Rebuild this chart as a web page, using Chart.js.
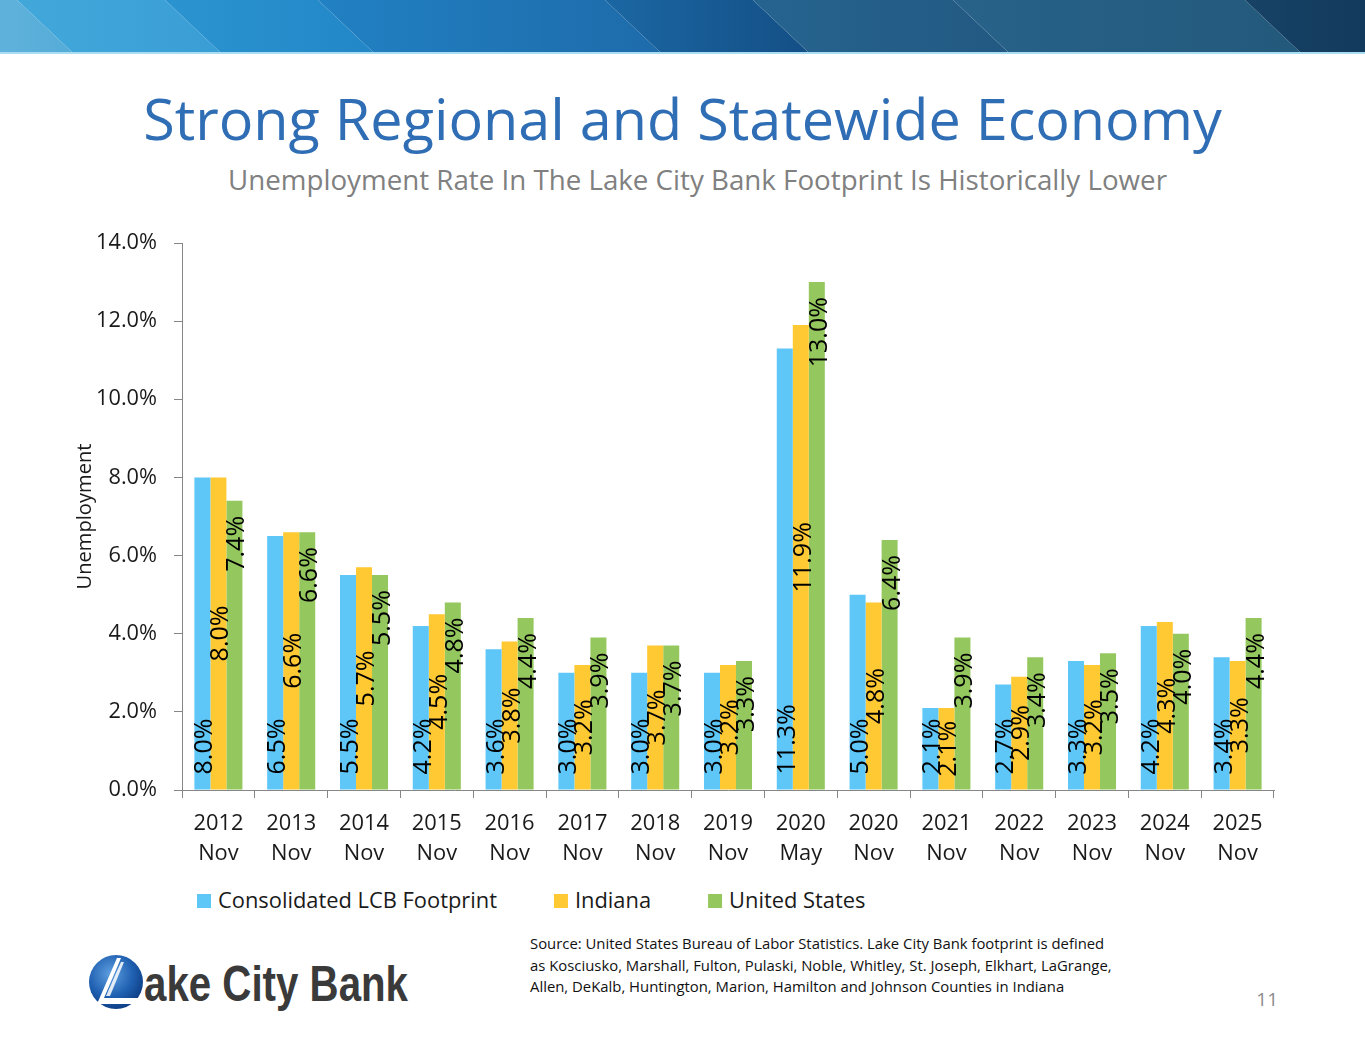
<!DOCTYPE html>
<html>
<head>
<meta charset="utf-8">
<script src="https://cdn.jsdelivr.net/npm/chart.js@4.4.1/dist/chart.umd.min.js"></script>
<style>
  body { margin: 0; background: #fff; }
  #page { position: relative; width: 1365px; height: 1047px; overflow: hidden; background: #fff; }
  #deco { position: absolute; left: 0; top: 0; }
  #box { position: absolute; left: 60px; top: 220px; width: 1230px; height: 650px; }
</style>
</head>
<body>
<div id="page">
  <svg id="deco" width="1365" height="1047" xmlns="http://www.w3.org/2000/svg">
    <defs>
      <linearGradient id="b0" x1="0" x2="1"><stop offset="0" stop-color="#5FB2DB"/><stop offset="1" stop-color="#55ACD8"/></linearGradient>
      <linearGradient id="b1" x1="0" x2="1"><stop offset="0" stop-color="#42A8DA"/><stop offset="1" stop-color="#3A9ED6"/></linearGradient>
      <linearGradient id="b2" x1="0" x2="1"><stop offset="0" stop-color="#2B94D0"/><stop offset="1" stop-color="#2387C7"/></linearGradient>
      <linearGradient id="b3" x1="0" x2="1"><stop offset="0" stop-color="#2181C3"/><stop offset="1" stop-color="#1E6BAA"/></linearGradient>
      <linearGradient id="b4" x1="0" x2="1"><stop offset="0" stop-color="#1B67A3"/><stop offset="1" stop-color="#144F86"/></linearGradient>
      <linearGradient id="b5" x1="0" x2="1"><stop offset="0" stop-color="#26648F"/><stop offset="1" stop-color="#225982"/></linearGradient>
      <linearGradient id="b6" x1="0" x2="1"><stop offset="0" stop-color="#28628A"/><stop offset="1" stop-color="#23597B"/></linearGradient>
      <linearGradient id="b7" x1="0" x2="1"><stop offset="0" stop-color="#174266"/><stop offset="1" stop-color="#123A5C"/></linearGradient>
      <radialGradient id="lg" cx="0.4" cy="0.35" r="0.7"><stop offset="0" stop-color="#5E9FE0"/><stop offset="0.6" stop-color="#1F5FB0"/><stop offset="1" stop-color="#0C3A80"/></radialGradient>
    </defs>
    <g id="banner">
      <polygon points="0,0 17,0 72,52 0,52" fill="url(#b0)"/>
      <polygon points="17,0 165,0 220,52 72,52" fill="url(#b1)"/>
      <polygon points="165,0 318,0 373,52 220,52" fill="url(#b2)"/>
      <polygon points="318,0 605,0 660,52 373,52" fill="url(#b3)"/>
      <polygon points="605,0 753,0 808,52 660,52" fill="url(#b4)"/>
      <polygon points="753,0 953,0 1008,52 808,52" fill="url(#b5)"/>
      <polygon points="953,0 1245,0 1300,52 1008,52" fill="url(#b6)"/>
      <polygon points="1245,0 1365,0 1365,52 1300,52" fill="url(#b7)"/>
      <rect x="0" y="52" width="1365" height="2" fill="#A9DDF2"/>
    </g>
    <text id="title" x="682.5" y="140" text-anchor="middle" font-family="'Open Sans', sans-serif" font-size="55" fill="#2F6DB5">Strong Regional and Statewide Economy</text>
    <text id="subtitle" x="697.5" y="190" text-anchor="middle" font-family="'Open Sans', sans-serif" font-size="26" fill="#808080">Unemployment Rate In The Lake City Bank Footprint Is Historically Lower</text>
    <g id="legend"></g>
    <g id="source" font-family="'Open Sans', sans-serif" font-size="14" fill="#111">
      <text x="530" y="949">Source: United States Bureau of Labor Statistics.  Lake City Bank footprint is defined</text>
      <text x="530" y="971">as Kosciusko, Marshall, Fulton, Pulaski, Noble, Whitley, St. Joseph, Elkhart, LaGrange,</text>
      <text x="530" y="992">Allen, DeKalb, Huntington, Marion, Hamilton and Johnson Counties in Indiana</text>
    </g>
    <text x="1278" y="1006" text-anchor="end" font-family="'Open Sans', sans-serif" font-size="19" fill="#8C8C8C">11</text>
    <g id="logo">
      <circle cx="116" cy="982" r="27" fill="url(#lg)"/>
      <polygon points="97,1004 117,958 121,958 104,998 146,998 146,1004" fill="#fff"/>
      <polygon points="106,996 121,962 124,962 110,996" fill="#fff" opacity="0.85"/>
      <text x="144" y="1001" font-family="'Liberation Sans', Arial, sans-serif" font-weight="bold" font-size="50" fill="#3A3A3A" textLength="264" lengthAdjust="spacingAndGlyphs">ake City Bank</text>
    </g>
  </svg>
  <div id="box"><canvas id="barChart"></canvas></div>
</div>
<script>
const categories = ['2012', '2013', '2014', '2015', '2016', '2017', '2018', '2019', '2020', '2020', '2021', '2022', '2023', '2024', '2025'];
const months = ['Nov', 'Nov', 'Nov', 'Nov', 'Nov', 'Nov', 'Nov', 'Nov', 'May', 'Nov', 'Nov', 'Nov', 'Nov', 'Nov', 'Nov'];
const lcbFootprint = [8.0, 6.5, 5.5, 4.2, 3.6, 3.0, 3.0, 3.0, 11.3, 5.0, 2.1, 2.7, 3.3, 4.2, 3.4];
const indiana = [8.0, 6.6, 5.7, 4.5, 3.8, 3.2, 3.7, 3.2, 11.9, 4.8, 2.1, 2.9, 3.2, 4.3, 3.3];
const unitedStates = [7.4, 6.6, 5.5, 4.8, 4.4, 3.9, 3.7, 3.3, 13.0, 6.4, 3.9, 3.4, 3.5, 4.0, 4.4];
const seriesNames = ['Consolidated LCB Footprint', 'Indiana', 'United States'];
const seriesColors = ['#5FC6F8', '#FFC933', '#94C85E'];
const yTicks = [0, 2, 4, 6, 8, 10, 12, 14];

const FONT = "'Open Sans', sans-serif";
const measureCtx = document.createElement('canvas').getContext('2d');
function fitSize(text, target, weight) {
    measureCtx.font = (weight || '') + ' 100px ' + FONT;
    return 100 * target / measureCtx.measureText(text).width;
}
function fitSvg(el, target) {
    const size = parseFloat(el.getAttribute('font-size'));
    el.setAttribute('font-size', size * target / el.getComputedTextLength());
}

// fit the static texts to the widths seen on the slide
fitSvg(document.getElementById('title'), 1079);
fitSvg(document.getElementById('subtitle'), 939);
const srcLines = document.querySelectorAll('#source text');
const srcGroup = document.getElementById('source');
const srcSize = 14 * 575 / srcLines[0].getComputedTextLength();
srcGroup.setAttribute('font-size', srcSize);

// legend under the chart
const legendSize = fitSize(seriesNames[0], 279);
const legend = document.getElementById('legend');
let lx = 197;
seriesNames.forEach((name, i) => {
    const r = document.createElementNS('http://www.w3.org/2000/svg', 'rect');
    r.setAttribute('x', lx); r.setAttribute('y', 894);
    r.setAttribute('width', 14); r.setAttribute('height', 14);
    r.setAttribute('fill', seriesColors[i]);
    legend.appendChild(r);
    const t = document.createElementNS('http://www.w3.org/2000/svg', 'text');
    t.setAttribute('x', lx + 21); t.setAttribute('y', 908);
    t.setAttribute('font-family', FONT); t.setAttribute('font-size', legendSize);
    t.setAttribute('fill', '#1a1a1a');
    t.textContent = name;
    legend.appendChild(t);
    lx += 21 + t.getComputedTextLength() + 57;
});

const yTickSize = fitSize('14.0%', 61);
const xTickSize = fitSize('2012', 50);
const yTitleSize = fitSize('Unemployment', 146);
const labelSize = fitSize('8.0%', 56);
const labelPos = ['start', 'center', 'end'];
const inset = 15;

const barLabels = {
    id: 'barLabels',
    afterDatasetsDraw(chart) {
        const ctx = chart.ctx;
        ctx.save();
        ctx.font = labelSize + 'px ' + FONT;
        ctx.fillStyle = '#000';
        ctx.textBaseline = 'alphabetic';
        chart.data.datasets.forEach((ds, i) => {
            chart.getDatasetMeta(i).data.forEach((bar, j) => {
                const txt = ds.data[j].toFixed(1) + '%';
                let py, align;
                if (labelPos[i] === 'start') { py = bar.base - inset; align = 'left'; }
                else if (labelPos[i] === 'center') { py = (bar.y + bar.base) / 2; align = 'center'; }
                else { py = bar.y + inset; align = 'right'; }
                ctx.save();
                ctx.translate(bar.x + 1, py);
                ctx.rotate(-Math.PI / 2);
                ctx.textAlign = align;
                ctx.fillText(txt, 0, labelSize * 0.36);
                ctx.restore();
            });
        });
        ctx.restore();
    }
};

const bar = document.getElementById('barChart');
new Chart(bar, {
    type: 'bar',
    data: {
        labels: categories.map((c, i) => [c, months[i]]),
        datasets: [lcbFootprint, indiana, unitedStates].map((d, i) => ({
            label: seriesNames[i],
            data: d,
            backgroundColor: seriesColors[i],
            borderWidth: 0,
            categoryPercentage: 0.66,
            barPercentage: 1.0
        }))
    },
    options: {
        responsive: true,
        maintainAspectRatio: false,
        animation: false,
        layout: { padding: { top: 23, right: 16, left: 0, bottom: 0 } },
        plugins: {
            legend: { display: false },
            tooltip: { enabled: false }
        },
        scales: {
            x: {
                afterFit: (s) => { s.height = 80; },
                grid: { display: true, drawOnChartArea: false, drawTicks: true, tickLength: 8, color: '#868686', offset: true },
                border: { display: true, color: '#868686', width: 1 },
                ticks: {
                    color: '#1a1a1a',
                    padding: 11,
                    maxRotation: 0,
                    autoSkip: false,
                    font: { family: FONT, size: xTickSize, lineHeight: 30 / xTickSize }
                }
            },
            y: {
                min: 0,
                max: 14,
                afterFit: (s) => { s.width = 122; s.paddingTop = 0; s.paddingBottom = 0; },
                afterBuildTicks: (s) => { s.ticks = yTicks.map(v => ({ value: v })); },
                grid: { display: true, drawOnChartArea: false, drawTicks: true, tickLength: 8, color: '#868686' },
                border: { display: true, color: '#868686', width: 1 },
                ticks: {
                    color: '#1a1a1a',
                    padding: 17,
                    font: { family: FONT, size: yTickSize },
                    callback: (v) => Number(v).toFixed(1) + '%'
                },
                title: {
                    display: true,
                    text: 'Unemployment',
                    color: '#1a1a1a',
                    font: { family: FONT, size: yTitleSize, lineHeight: 1.2 },
                    padding: { top: 25 - yTitleSize * 0.6, bottom: 0 }
                }
            }
        }
    },
    plugins: [barLabels]
});
</script>
</body>
</html>
